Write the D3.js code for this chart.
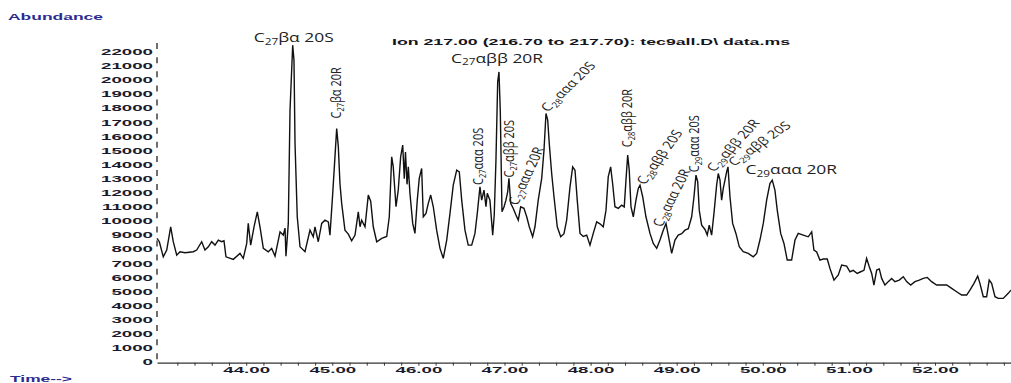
<!DOCTYPE html>
<html>
<head>
<meta charset="utf-8">
<script src="https://cdn.jsdelivr.net/npm/d3@7"></script>
<style>
  body { margin: 0; background: #fff; }
  svg { display: block; }
</style>
</head>
<body>
<div id="graph"></div>
<script>
// Retention time (min) and abundance of the m/z 217 trace
const rt = [
  42.964, 42.991, 43.037, 43.077, 43.123, 43.153, 43.193, 43.231, 43.289, 43.386,
  43.425, 43.483, 43.521, 43.560, 43.599, 43.638, 43.676, 43.715, 43.742, 43.765,
  43.850, 43.928, 43.966, 44.006, 44.024, 44.052, 44.091, 44.129, 44.160, 44.199,
  44.257, 44.296, 44.335, 44.393, 44.431, 44.451, 44.462, 44.489, 44.509, 44.540,
  44.555, 44.567, 44.593, 44.625, 44.683, 44.741, 44.779, 44.799, 44.837, 44.877,
  44.915, 44.954, 44.973, 45.005, 45.031, 45.051, 45.070, 45.089, 45.109, 45.147,
  45.186, 45.225, 45.264, 45.302, 45.322, 45.341, 45.380, 45.418, 45.446, 45.476,
  45.516, 45.574, 45.632, 45.662, 45.690, 45.708, 45.740, 45.766, 45.794, 45.818,
  45.836, 45.850, 45.868, 45.883, 45.902, 45.934, 45.960, 45.987, 46.010, 46.038,
  46.057, 46.088, 46.115, 46.143, 46.173, 46.212, 46.251, 46.289, 46.329, 46.367,
  46.405, 46.445, 46.475, 46.503, 46.541, 46.579, 46.619, 46.657, 46.684, 46.715,
  46.735, 46.762, 46.785, 46.800, 46.831, 46.863, 46.881, 46.901, 46.921, 46.936,
  46.951, 46.971, 46.994, 47.017, 47.037, 47.052, 47.072, 47.102, 47.133, 47.160,
  47.188, 47.226, 47.258, 47.288, 47.327, 47.354, 47.392, 47.432, 47.459, 47.482,
  47.502, 47.520, 47.548, 47.575, 47.613, 47.653, 47.691, 47.722, 47.761, 47.792,
  47.819, 47.845, 47.877, 47.915, 47.955, 47.993, 48.031, 48.071, 48.109, 48.147,
  48.179, 48.205, 48.233, 48.256, 48.283, 48.322, 48.361, 48.391, 48.411, 48.431,
  48.449, 48.469, 48.496, 48.527, 48.554, 48.574, 48.605, 48.643, 48.690, 48.728,
  48.768, 48.806, 48.844, 48.876, 48.902, 48.942, 48.980, 49.018, 49.058, 49.096,
  49.135, 49.174, 49.201, 49.224, 49.244, 49.262, 49.290, 49.329, 49.355, 49.378,
  49.406, 49.433, 49.464, 49.483, 49.503, 49.522, 49.541, 49.561, 49.580, 49.596,
  49.619, 49.650, 49.688, 49.727, 49.773, 49.831, 49.889, 49.929, 49.967, 50.006,
  50.045, 50.083, 50.110, 50.141, 50.168, 50.208, 50.246, 50.284, 50.335, 50.374,
  50.412, 50.470, 50.528, 50.568, 50.594, 50.626, 50.664, 50.702, 50.749, 50.780,
  50.827, 50.877, 50.916, 50.974, 51.013, 51.051, 51.097, 51.137, 51.175, 51.206,
  51.237, 51.265, 51.291, 51.323, 51.353, 51.381, 51.419, 51.457, 51.497, 51.535,
  51.585, 51.632, 51.671, 51.718, 51.767, 51.817, 51.864, 51.910, 51.961, 52.019,
  52.077, 52.136, 52.194, 52.252, 52.310, 52.368, 52.406, 52.453, 52.496, 52.522,
  52.561, 52.600, 52.630, 52.658, 52.697, 52.735, 52.793, 52.851, 52.882
];
const abundance = [
  8770, 8530, 7460, 7940, 9590, 8530, 7580, 7820, 7750, 7820,
  7940, 8530, 7940, 8170, 8530, 8290, 8650, 8530, 8600, 7460,
  7280, 7700, 7350, 8410, 9830, 8290, 9590, 10650, 9590, 8060,
  7820, 8060, 7510, 9230, 9000, 9500, 7510, 9830, 17860, 22470,
  21400, 15520, 10300, 8170, 7820, 9350, 8880, 9590, 8530, 9830,
  10060, 9940, 9000, 11960, 14550, 16560, 15260, 12660, 11250, 9350,
  9070, 8600, 9000, 10650, 9590, 10060, 9590, 11840, 11400, 9590,
  8530, 8770, 8900, 10300, 14550, 13840, 11010, 12190, 14550, 15380,
  13000, 14900, 12600, 13840, 11960, 9830, 9120, 11480, 13020, 13730,
  10300, 10540, 11250, 11840, 11010, 9350, 8060, 7350, 8650, 10540,
  12540, 13610, 13490, 11480, 9350, 8290, 8290, 9120, 10540, 12420,
  11480, 12190, 11010, 11960, 11480, 9000, 10420, 14320, 19870, 20570,
  17860, 10650, 11000, 11480, 12070, 13020, 11250, 10890, 10420, 10060,
  11010, 10900, 10300, 9590, 8880, 9590, 11480, 13020, 15030, 17630,
  17150, 15500, 13370, 11720, 9590, 8880, 9100, 10060, 12420, 13840,
  13600, 11480, 9120, 8900, 9000, 8290, 9120, 9940, 9800, 9590,
  10770, 13130, 13840, 12660, 11010, 10900, 11130, 11000, 12900, 14670,
  13610, 11010, 10300, 11480, 12310, 12540, 11720, 10300, 9120, 8410,
  8060, 8650, 9350, 9830, 9000, 7700, 8650, 9000, 9100, 9350,
  9450, 10300, 11720, 13250, 12800, 10770, 9710, 9400, 9000, 9710,
  9000, 10540, 12540, 13370, 12900, 11480, 12310, 12900, 13490, 13840,
  11720, 9830, 9120, 8170, 7820, 7700, 7460, 7700, 8650, 9830,
  11480, 12660, 12900, 12190, 10770, 9120, 8410, 7230, 7230, 8650,
  9120, 9000, 8880, 9230, 7940, 7800, 7230, 7300, 7300, 6640,
  5810, 6170, 6870, 6800, 6400, 6500, 6280, 6400, 6500, 7350,
  6750, 6280, 5460, 6520, 6600, 5930, 5460, 5700, 5930, 5700,
  5810, 6050, 5700, 5460, 5700, 5810, 5930, 6000, 5700, 5460,
  5460, 5460, 5220, 4980, 4750, 4750, 5100, 5580, 6090, 5580,
  4630, 4630, 5810, 5580, 4630, 4510, 4510, 4870, 5100
];

// Peak labels (sterane names), with the apex they sit on
const peakCarbon = ["27", "27", "27", "27", "27", "27", "28", "28", "28", "28", "29", "29", "29", "29"];
const peakSuffix = ["βα 20S", "βα 20R", "αββ 20R", "ααα 20S", "αββ 20S", "ααα 20R", "ααα 20S",
                    "αββ 20R", "αββ 20S", "ααα 20R", "ααα 20S", "αββ 20R", "αββ 20S", "ααα 20R"];
const peakTime = [44.540, 45.051, 46.936, 46.715, 47.052, 47.188, 47.482,
                  48.431, 48.574, 48.876, 49.224, 49.483, 49.596, 50.110];
const peakAbund = [22470, 16560, 20570, 12420, 13020, 11010, 17630,
                   14670, 12540, 9830, 13250, 13370, 13840, 12900];

// Axis ticks
const yTicks = [0, 1000, 2000, 3000, 4000, 5000, 6000, 7000, 8000, 9000, 10000, 11000,
                12000, 13000, 14000, 15000, 16000, 17000, 18000, 19000, 20000, 21000, 22000];
const xLabelTimes = [44, 45, 46, 47, 48, 49, 50, 51, 52];
const xTickLabels = ["44.00", "45.00", "46.00", "47.00", "48.00", "49.00", "50.00", "51.00", "52.00"];

const titleText = "Ion 217.00 (216.70 to 217.70): tec9all.D\\ data.ms";

const width = 1011, height = 383;
const svg = d3.select("#graph").append("svg")
    .attr("width", width)
    .attr("height", height);

const x = d3.scaleLinear().domain([42.964, 52.883]).range([157, 1011]);
const y = d3.scaleLinear().domain([0, 22000]).range([362, 51.8]);

const axisFont = "'Liberation Sans', Arial, sans-serif";
const stretch = 2.2; // the ChemStation text is very wide

// X axis: small tick every 0.2 min, label on whole minutes
const minorTicks = d3.range(43.2, 52.81, 0.2).map(d => +d.toFixed(1));
const xAxis = d3.axisBottom(x)
    .tickValues(minorTicks)
    .tickSize(3)
    .tickSizeOuter(0)
    .tickFormat(d => {
        const i = xLabelTimes.indexOf(d);
        return i >= 0 ? xTickLabels[i] : "";
    });

const gx = svg.append("g")
    .attr("transform", "translate(0,362.7)")
    .call(xAxis);
gx.select(".domain").attr("stroke", "#333").attr("stroke-width", 1.2);
gx.selectAll(".tick line").attr("stroke", "#333");
gx.selectAll(".tick text")
    .attr("y", 0).attr("dy", 0)
    .attr("transform", `translate(0,9.8) scale(${stretch},1)`)
    .attr("font-family", axisFont)
    .attr("font-size", 8.5)
    .attr("font-weight", "bold")
    .attr("fill", "#1b1b2e");

// Y axis: labels only, dashed spine
const yAxis = d3.axisLeft(y).tickValues(yTicks).tickSize(0).tickFormat(d3.format("d"));
const gy = svg.append("g")
    .attr("transform", "translate(157,0)")
    .call(yAxis);
gy.select(".domain").remove();
gy.selectAll(".tick text")
    .attr("x", 0)
    .attr("transform", `translate(-4,0) scale(${stretch},1)`)
    .attr("font-family", axisFont)
    .attr("font-size", 8.5)
    .attr("font-weight", "bold")
    .attr("fill", "#1b1b2e");

const step = y(0) - y(1000);
svg.append("line")
    .attr("x1", 157).attr("x2", 157)
    .attr("y1", y(22000) - 8.7).attr("y2", y(0))
    .attr("stroke", "#222")
    .attr("stroke-width", 1.3)
    .attr("stroke-dasharray", `6,${step - 6}`);

// Trace
const trace = rt.map((t, i) => ({ t, v: abundance[i] }));
svg.append("path")
    .datum(trace)
    .attr("fill", "none")
    .attr("stroke", "#111")
    .attr("stroke-width", 1.4)
    .attr("stroke-linejoin", "miter")
    .attr("d", d3.line().x(d => x(d.t)).y(d => y(d.v)));

// Header texts
svg.append("text")
    .attr("x", 8).attr("y", 20)
    .attr("font-family", axisFont).attr("font-size", 8.5).attr("font-weight", "bold")
    .attr("fill", "#2b2b92")
    .attr("textLength", 95).attr("lengthAdjust", "spacingAndGlyphs")
    .text("Abundance");

svg.append("text")
    .attr("x", 392).attr("y", 44.5)
    .attr("font-family", axisFont).attr("font-size", 8.5).attr("font-weight", "bold")
    .attr("fill", "#151520")
    .attr("textLength", 398).attr("lengthAdjust", "spacingAndGlyphs")
    .text(titleText);

svg.append("text")
    .attr("x", 10).attr("y", 381.5)
    .attr("font-family", axisFont).attr("font-size", 8.5).attr("font-weight", "bold")
    .attr("fill", "#2b2b92")
    .attr("textLength", 62).attr("lengthAdjust", "spacingAndGlyphs")
    .text("Time-->");

// Peak labels: offset from apex (px), visual angle (deg), anchor
const labelLayout = [
    { dx: 1, dy: -3, ang: 0, anchor: "middle" },
    { dx: 4, dy: -10, ang: 90, anchor: "start" },
    { dx: -2, dy: -9, ang: 0, anchor: "middle" },
    { dx: 3, dy: -2, ang: 90, anchor: "start" },
    { dx: 5, dy: -1, ang: 90, anchor: "start" },
    { dx: -3, dy: -1, ang: 65, anchor: "start" },
    { dx: 2, dy: -1, ang: 44, anchor: "start" },
    { dx: 4, dy: -8, ang: 90, anchor: "start" },
    { dx: 5, dy: 0, ang: 54, anchor: "start" },
    { dx: -4, dy: 4, ang: 63, anchor: "start" },
    { dx: 3, dy: -3, ang: 90, anchor: "start" },
    { dx: -4, dy: -1, ang: 47, anchor: "start" },
    { dx: 6, dy: 0, ang: 35, anchor: "start" },
    { dx: 19, dy: -6, ang: 0, anchor: "middle" }
];

const labels = svg.append("g")
    .attr("font-family", "'Open Sans', sans-serif")
    .attr("fill", "#222");

peakTime.forEach((t, i) => {
    const L = labelLayout[i];
    const px = x(t) + L.dx, py = y(peakAbund[i]) + L.dy;
    // horizontal names are drawn wider, upright ones narrower, as in the scan
    const sx = L.ang === 0 ? 1.45 : L.ang === 90 ? 1.3 : 1.3;
    const fs = L.ang === 0 ? 12 : L.ang === 90 ? 11 : 11.5;
    let a = 0;
    if (L.ang === 90) a = 90;
    else if (L.ang > 0) a = Math.atan(Math.tan(L.ang * Math.PI / 180) * sx) * 180 / Math.PI;
    const txt = labels.append("text")
        .attr("font-size", fs)
        .attr("text-anchor", L.anchor)
        .attr("transform", `translate(${px},${py}) scale(${sx},1) rotate(${-a})`);
    txt.append("tspan").text("C");
    txt.append("tspan").attr("font-size", fs * 0.68).attr("dy", 2.5).text(peakCarbon[i]);
    txt.append("tspan").attr("dy", -2.5).text(peakSuffix[i]);
});
</script>
</body>
</html>
